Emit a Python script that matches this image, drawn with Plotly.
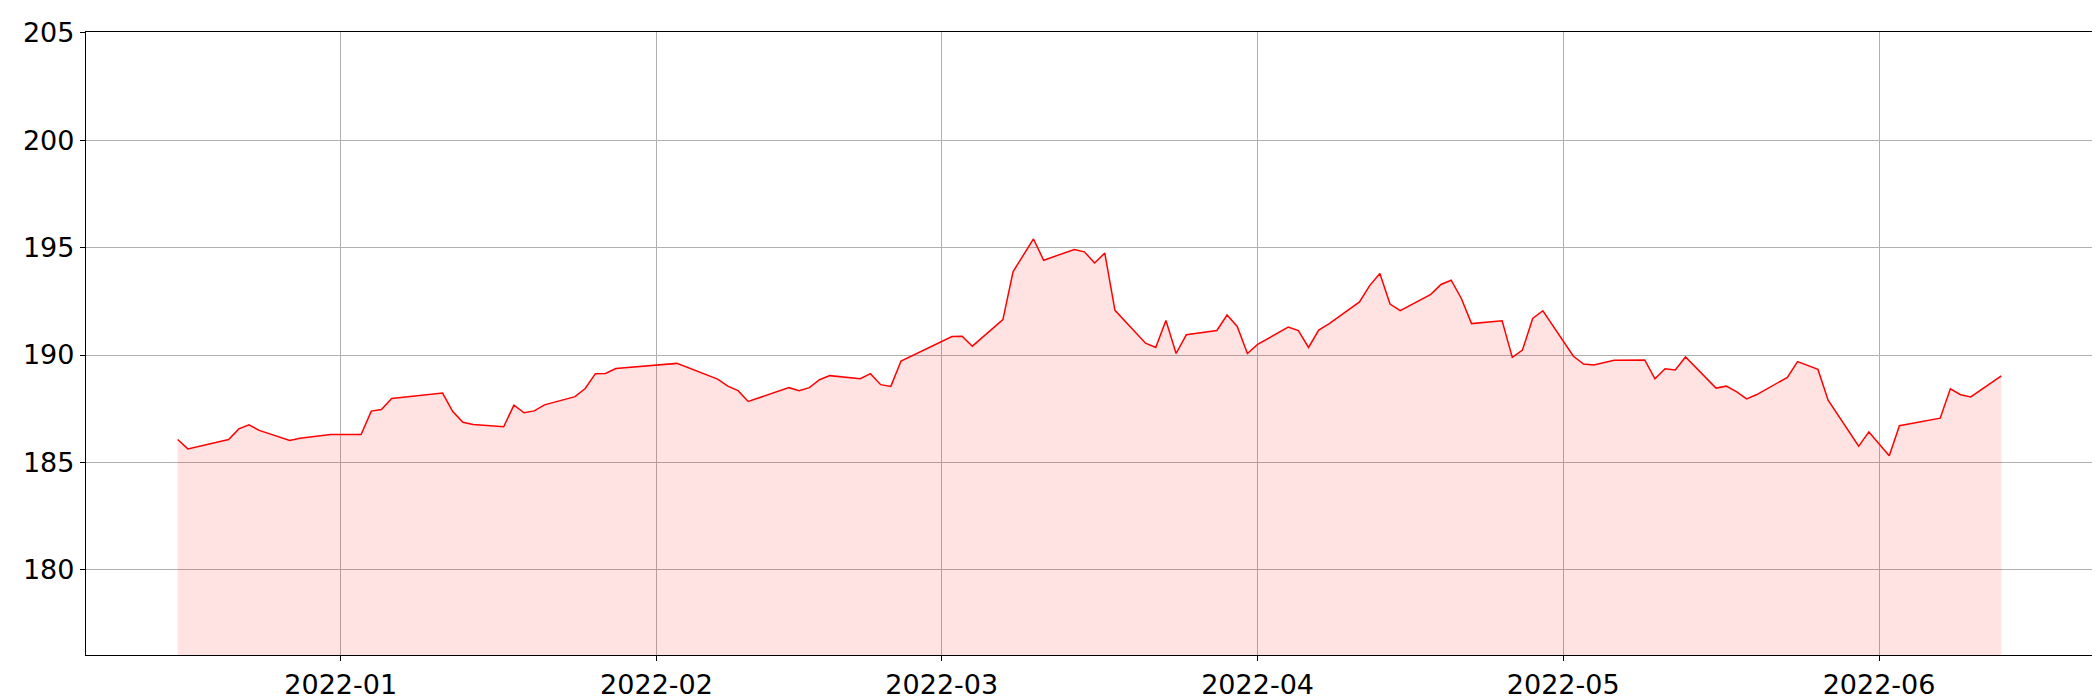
import plotly.graph_objects as go
import pandas as pd

# closing values
dates = [
    "2021-12-16", "2021-12-17", "2021-12-21", "2021-12-22", "2021-12-23", "2021-12-24",
    "2021-12-27", "2021-12-28", "2021-12-31", "2022-01-03", "2022-01-04", "2022-01-05",
    "2022-01-06", "2022-01-11", "2022-01-12", "2022-01-13", "2022-01-14", "2022-01-17",
    "2022-01-18", "2022-01-19", "2022-01-20", "2022-01-21", "2022-01-24", "2022-01-25",
    "2022-01-26", "2022-01-27", "2022-01-28", "2022-02-03", "2022-02-07", "2022-02-08",
    "2022-02-09", "2022-02-10", "2022-02-14", "2022-02-15", "2022-02-16", "2022-02-17",
    "2022-02-18", "2022-02-21", "2022-02-22", "2022-02-23", "2022-02-24", "2022-02-25",
    "2022-03-02", "2022-03-03", "2022-03-04", "2022-03-07", "2022-03-08", "2022-03-10",
    "2022-03-11", "2022-03-14", "2022-03-15", "2022-03-16", "2022-03-17", "2022-03-18",
    "2022-03-21", "2022-03-22", "2022-03-23", "2022-03-24", "2022-03-25", "2022-03-28",
    "2022-03-29", "2022-03-30", "2022-03-31", "2022-04-01", "2022-04-04", "2022-04-05",
    "2022-04-06", "2022-04-07", "2022-04-08", "2022-04-11", "2022-04-12", "2022-04-13",
    "2022-04-14", "2022-04-15", "2022-04-18", "2022-04-19", "2022-04-20", "2022-04-21",
    "2022-04-22", "2022-04-25", "2022-04-26", "2022-04-27", "2022-04-28", "2022-04-29",
    "2022-05-02", "2022-05-03", "2022-05-04", "2022-05-06", "2022-05-09", "2022-05-10",
    "2022-05-11", "2022-05-12", "2022-05-13", "2022-05-16", "2022-05-17", "2022-05-18",
    "2022-05-19", "2022-05-20", "2022-05-23", "2022-05-24", "2022-05-26", "2022-05-27",
    "2022-05-30", "2022-05-31", "2022-06-02", "2022-06-03", "2022-06-07", "2022-06-08",
    "2022-06-09", "2022-06-10", "2022-06-13",
]

values = [
    186.07, 185.63, 186.07, 186.56, 186.75, 186.49,
    186.02, 186.13, 186.30, 186.30, 187.39, 187.46,
    187.98, 188.23, 187.37, 186.87, 186.77, 186.66,
    187.67, 187.31, 187.40, 187.68, 188.06, 188.44,
    189.13, 189.14, 189.37, 189.61, 188.88, 188.55,
    188.34, 187.84, 188.48, 188.34, 188.48, 188.85,
    189.04, 188.90, 189.13, 188.62, 188.54, 189.72,
    190.86, 190.87, 190.41, 191.65, 193.88, 195.40,
    194.41, 194.91, 194.80, 194.28, 194.74, 192.08,
    190.55, 190.35, 191.61, 190.07, 190.94, 191.14,
    191.86, 191.33, 190.07, 190.49, 191.30, 191.14,
    190.35, 191.16, 191.45, 192.47, 193.23, 193.79,
    192.37, 192.06, 192.82, 193.28, 193.48, 192.63,
    191.46, 191.59, 189.89, 190.23, 191.70, 192.06,
    189.94, 189.58, 189.53, 189.75, 189.77, 188.89,
    189.36, 189.30, 189.91, 188.46, 188.55, 188.30,
    187.96, 188.16, 188.96, 189.69, 189.33, 187.90,
    185.76, 186.42, 185.31, 186.71, 187.06, 188.43,
    188.15, 188.05, 189.03,
]

y_ticks = [180, 185, 190, 195, 200, 205]

x = pd.to_datetime(dates)

fig = go.Figure()
fig.add_trace(go.Scatter(
    x=x, y=values, mode="lines",
    line=dict(color="red", width=1.5),
    fill="tozeroy", fillcolor="rgba(255,0,0,0.11)",
    showlegend=False,
))

axis_style = dict(
    showline=True, linecolor="black", linewidth=1.3, mirror=True,
    showgrid=True, gridcolor="#b0b0b0", gridwidth=1,
    ticks="outside", ticklen=5, tickcolor="black", tickwidth=1.2,
    zeroline=False, automargin=False,
)

fig.update_xaxes(
    range=["2021-12-07", "2022-06-22"],
    dtick="M1", tick0="2022-01-01", tickformat="%Y-%m",
    **axis_style,
)
fig.update_yaxes(
    range=[176.04, 205.03],
    tickvals=y_ticks,
    **axis_style,
)

fig.update_layout(
    width=2100, height=700,
    template="plotly_white",
    plot_bgcolor="white", paper_bgcolor="white",
    margin=dict(l=78, r=15, t=24, b=53),
    font=dict(family="DejaVu Sans", size=27, color="black"),
)

fig.write_html("out.html")
